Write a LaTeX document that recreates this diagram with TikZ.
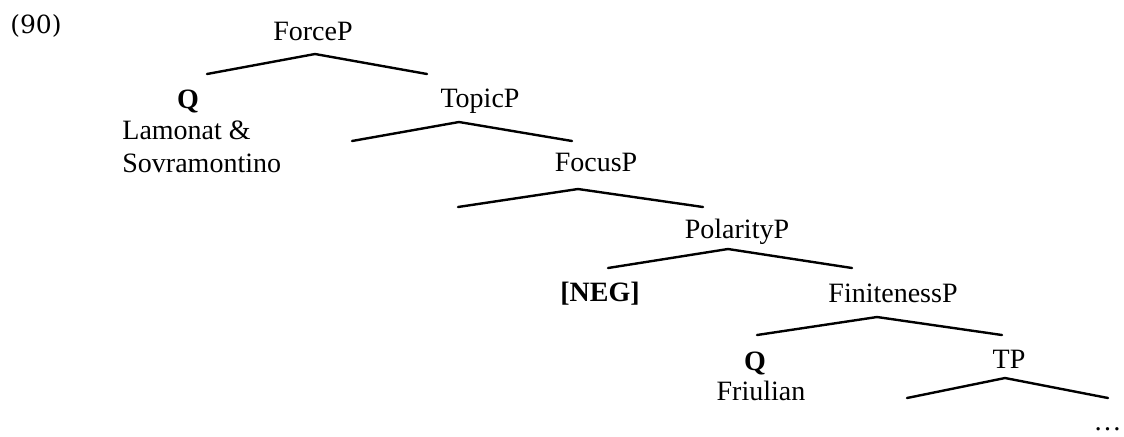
\documentclass[tikz,border=0pt]{standalone}
\usepackage{fontspec}
\setmainfont{Liberation Serif}
\newfontfamily\exfont{DejaVu Serif}
\usetikzlibrary{positioning}
\tikzset{
	cat/.style={anchor=base, inner sep=0pt, font=\fontsize{14}{16.5}\selectfont},
	feat/.style={cat, font=\fontsize{14}{16.5}\selectfont\bfseries},
	branch/.style={line width=1.2pt, line cap=round}
}

\begin{document}
\begin{tikzpicture}[x=0.5pt, y=-0.5pt]

	\useasboundingbox (0,0) rectangle (1124,436);

	\node [anchor=base, inner sep=0pt, font=\exfont\fontsize{12.5}{15}\selectfont] (exno) at (36,33) {(90)};

	% labels
	\node [cat] (force) at (313,40) {ForceP};
	\node [feat] (q1) at (188,108) {Q};
	\node [cat, anchor=base west, align=left] (lamonat) at (122,172) {Lamonat \&\\Sovramontino};
	\node [cat] (topic) at (480,107) {TopicP};
	\node [cat] (focus) at (596,171) {FocusP};
	\node [cat] (polarity) at (737,238) {PolarityP};
	\node [feat] (neg) at (600,301) {[NEG]};
	\node [cat] (finiteness) at (893,302) {FinitenessP};
	\node [feat] (q2) at (755,370) {Q};
	\node [cat] (friulian) at (761,400) {Friulian};
	\node [cat] (tp) at (1009,368) {TP};
	\node [cat, anchor=base east] (dots) at (1122,430) {…};

	% branch points
	\coordinate (force-top) at (315,54);
	\coordinate (force-l) at (207,74);
	\coordinate (force-r) at (427,74);
	\coordinate (topic-top) at (459,122);
	\coordinate (topic-l) at (352,141);
	\coordinate (topic-r) at (572,141);
	\coordinate (focus-top) at (578,189);
	\coordinate (focus-l) at (458,207);
	\coordinate (focus-r) at (703,207);
	\coordinate (polarity-top) at (728,249);
	\coordinate (polarity-l) at (608,268);
	\coordinate (polarity-r) at (852,268);
	\coordinate (finiteness-top) at (877,317);
	\coordinate (finiteness-l) at (757,335);
	\coordinate (finiteness-r) at (1002,335);
	\coordinate (tp-top) at (1005,378);
	\coordinate (tp-l) at (907,398);
	\coordinate (tp-r) at (1108,398);

	\draw [branch] (force-l) -- (force-top) -- (force-r);
	\draw [branch] (topic-l) -- (topic-top) -- (topic-r);
	\draw [branch] (focus-l) -- (focus-top) -- (focus-r);
	\draw [branch] (polarity-l) -- (polarity-top) -- (polarity-r);
	\draw [branch] (finiteness-l) -- (finiteness-top) -- (finiteness-r);
	\draw [branch] (tp-l) -- (tp-top) -- (tp-r);

\end{tikzpicture}
\end{document}
